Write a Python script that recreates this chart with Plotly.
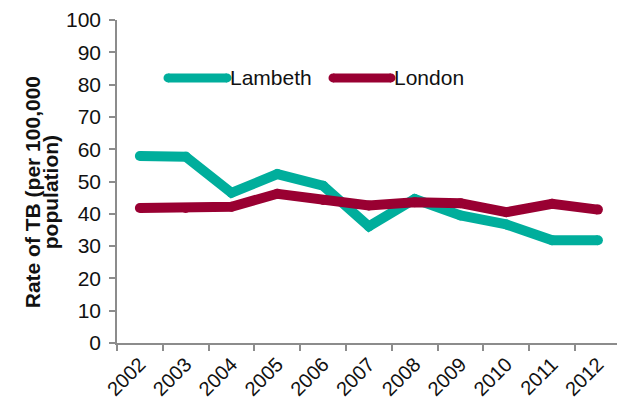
import plotly.graph_objects as go

# Annual TB rates per 100,000 population
years = ["2002", "2003", "2004", "2005", "2006", "2007",
         "2008", "2009", "2010", "2011", "2012"]
lambeth = [57.9, 57.7, 46.5, 52.3, 48.7, 36.1, 44.6, 39.5, 36.7, 31.8, 31.8]
london = [41.8, 41.8, 42.2, 46.2, 44.3, 42.6, 43.6, 43.3, 40.5, 43.1, 41.3]

series_names = ["Lambeth", "London"]
series_colors = ["#00AE9C", "#990032"]
y_ticks = list(range(0, 101, 10))

W, H = 617, 404
M_L, M_R, M_T, M_B = 117, 0, 19.5, 61
LINE_W = 10
AXIS_COL = "#8C8C8C"
FONT = "Liberation Sans, Arial, sans-serif"

fig = go.Figure()
for name, vals, col in zip(series_names, [lambeth, london], series_colors):
    # line plus same-size dots to give rounded joins and caps
    fig.add_trace(go.Scatter(
        x=years, y=vals, name=name, mode="lines+markers",
        line=dict(color=col, width=LINE_W),
        marker=dict(color=col, size=LINE_W, line=dict(width=0)),
        showlegend=False, hoverinfo="skip"))

# hand-drawn legend: long rounded swatches followed by labels
plot_w = W - M_L - M_R
plot_h = H - M_T - M_B

def px_x(px):
    return (px - M_L) / plot_w

def px_y(py):
    return (H - M_B - py) / plot_h

legend_items = [(168, 227), (333, 391)]
leg_y = 77.5
leg_w = 9
for (x0, x1), name, col in zip(legend_items, series_names, series_colors):
    fig.add_shape(type="line", xref="paper", yref="paper",
                  x0=px_x(x0), x1=px_x(x1), y0=px_y(leg_y), y1=px_y(leg_y),
                  line=dict(color=col, width=leg_w))
    for cx in (x0, x1):
        fig.add_shape(type="circle", xref="paper", yref="paper",
                      x0=px_x(cx - leg_w / 2), x1=px_x(cx + leg_w / 2),
                      y0=px_y(leg_y + leg_w / 2), y1=px_y(leg_y - leg_w / 2),
                      fillcolor=col, line=dict(width=0))
    fig.add_annotation(text=name, xref="paper", yref="paper",
                       x=px_x(x1 + 1), y=px_y(leg_y), xanchor="left",
                       yanchor="middle", showarrow=False,
                       font=dict(family=FONT, size=21, color="#111111"))

# two-line rotated axis title with tight line spacing
for text, cx in [("Rate of TB (per 100,000", 32), ("population)", 50)]:
    fig.add_annotation(text="<b>%s</b>" % text, xref="paper", yref="paper",
                       x=px_x(cx), y=px_y(192), textangle=-90,
                       xanchor="center", yanchor="middle", showarrow=False,
                       font=dict(family=FONT, size=21, color="#111111"))

fig.update_xaxes(
    type="category", range=[-0.5, -0.5 + plot_w / 45.8],
    tickson="boundaries", ticks="outside", ticklen=6, tickwidth=1.5,
    tickcolor=AXIS_COL, showline=True, linecolor=AXIS_COL, linewidth=1.5,
    showgrid=False, zeroline=False, tickangle=-45,
    tickfont=dict(family=FONT, size=20, color="#111111"))
fig.update_yaxes(
    range=[0, 100], tickvals=y_ticks, ticks="outside", ticklen=6,
    tickwidth=1.5, tickcolor=AXIS_COL, showline=True, linecolor=AXIS_COL,
    linewidth=1.5, showgrid=False, zeroline=False, ticklabelstandoff=4,
    tickfont=dict(family=FONT, size=21, color="#111111"))

fig.update_layout(
    width=W, height=H, margin=dict(l=M_L, r=M_R, t=M_T, b=M_B),
    paper_bgcolor="white", plot_bgcolor="white", showlegend=False)

fig.write_html("out.html")
